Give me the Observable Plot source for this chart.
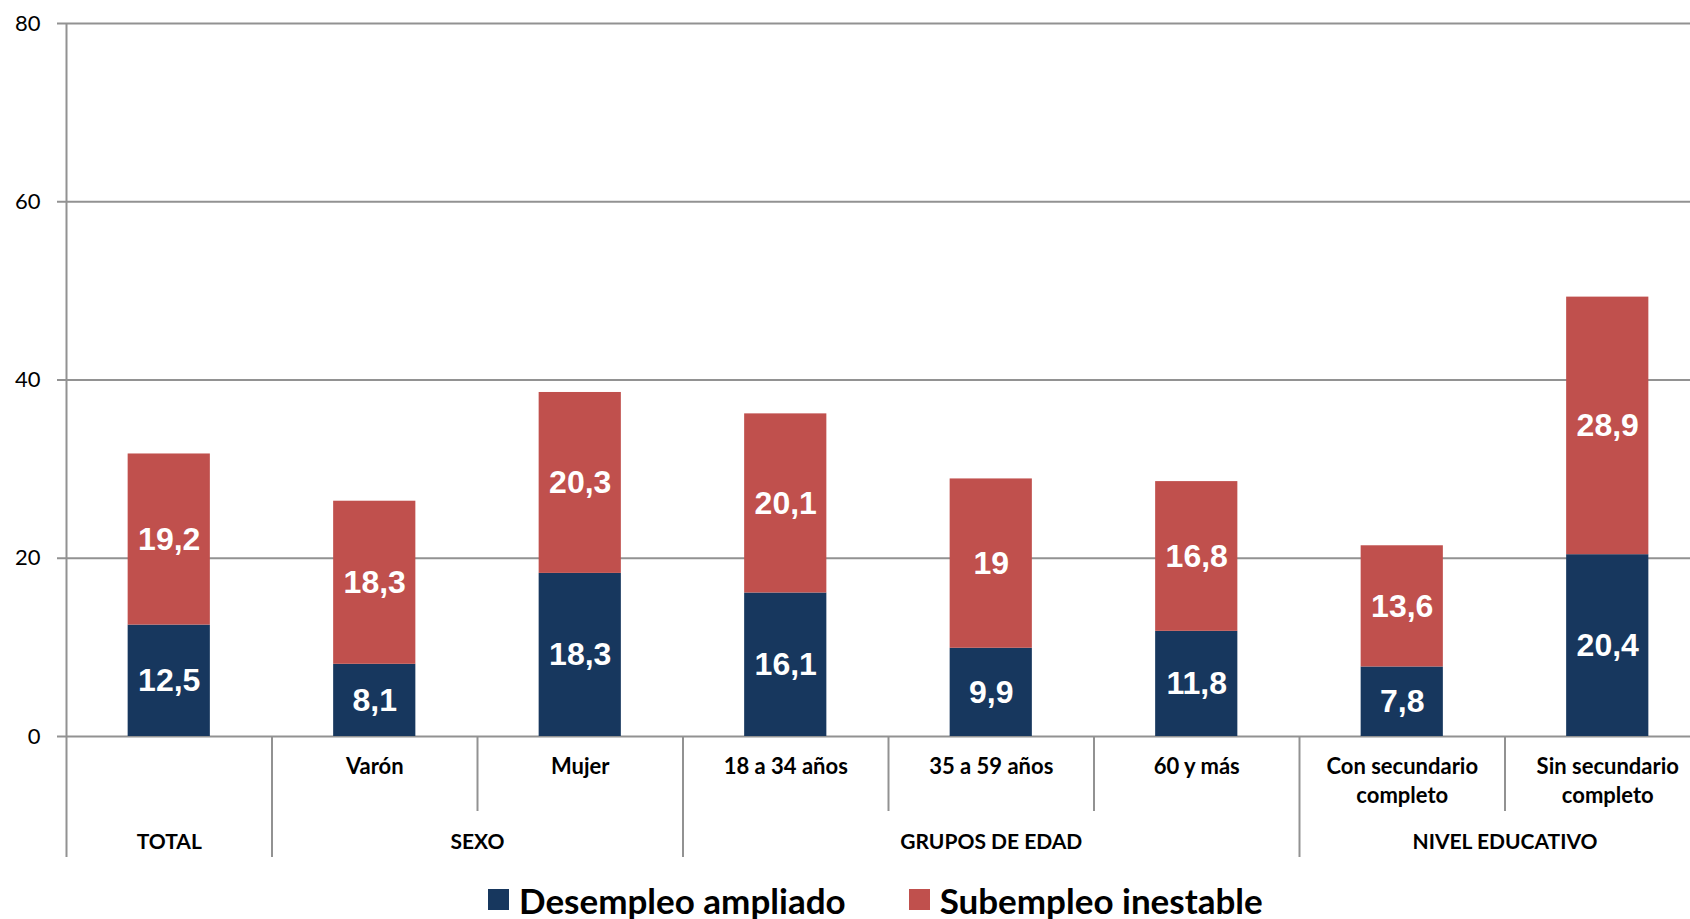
<!DOCTYPE html>
<html>
<head>
<meta charset="utf-8">
<script src="https://cdn.jsdelivr.net/npm/d3@7"></script>
<script src="https://cdn.jsdelivr.net/npm/@observablehq/plot@0.6"></script>
<style>
  html, body { margin: 0; padding: 0; background: #fff; }
  #chart { width: 1690px; }
  .legend { display: flex; align-items: center; height: 49px; padding-top: 5px; padding-left: 488px; font-family: Lato, "Noto Sans", sans-serif; font-weight: 700; font-size: 35px; color: #000; }
  .legend .item { display: flex; align-items: center; }
  .legend .sw { width: 21px; height: 21px; margin-right: 10px; }
</style>
</head>
<body>
<div id="chart"></div>
<script>
// Data
const categories = ["TOTAL", "Varón", "Mujer", "18 a 34 años", "35 a 59 años", "60 y más", "Con secundario\ncompleto", "Sin secundario\ncompleto"];
const categoryLabels = ["", "Varón", "Mujer", "18 a 34 años", "35 a 59 años", "60 y más", "Con secundario\ncompleto", "Sin secundario\ncompleto"];
const desempleoAmpliado = [12.5, 8.1, 18.3, 16.1, 9.9, 11.8, 7.8, 20.4];
const subempleoInestable = [19.2, 18.3, 20.3, 20.1, 19, 16.8, 13.6, 28.9];
const groups = ["TOTAL", "SEXO", "GRUPOS DE EDAD", "NIVEL EDUCATIVO"];
const groupSizes = [1, 2, 3, 2];
const yTicks = [0, 20, 40, 60, 80];
const seriesNames = ["Desempleo ampliado", "Subempleo inestable"];
const seriesColors = ["#17375E", "#C0504D"];

// Derived tables
const rows = [];
categories.forEach((c, i) => {
  rows.push({i, cat: c, serie: seriesNames[0], lo: 0, hi: desempleoAmpliado[i], v: desempleoAmpliado[i]});
  rows.push({i, cat: c, serie: seriesNames[1], lo: desempleoAmpliado[i], hi: desempleoAmpliado[i] + subempleoInestable[i], v: subempleoInestable[i]});
});
const groupRows = [];
let start = 0;
groups.forEach((g, k) => {
  const n = groupSizes[k];
  groupRows.push({name: g, center: start + (n - 1) / 2, lo: start - 0.5, hi: start + n - 0.5});
  start += n;
});
const axisBound = groupRows[0].lo;                          // left axis line
const groupBounds = groupRows.slice(1).map(g => g.lo);      // long separators
const innerBounds = [];
groupRows.forEach(g => { for (let b = g.lo + 1; b < g.hi; b++) innerBounds.push(b); });
const catRows = categoryLabels.map((t, i) => ({i, t}));
const fmt = v => String(v).replace(".", ",");

const W = 1690, H = 870;
const font = "Lato, 'Noto Sans', sans-serif";
const chart = Plot.plot({
  width: W,
  height: H,
  marginLeft: 66,
  marginRight: 0,
  marginTop: 23,
  marginBottom: H - 736,
  style: {background: "#fff", overflow: "hidden"},
  x: {domain: [-0.5, categories.length - 0.5], range: [66, 66 + 205.5 * categories.length], axis: null},
  y: {domain: [0, 80], ticks: yTicks, label: null},
  color: {domain: seriesNames, range: seriesColors},
  marks: [
    Plot.ruleY(yTicks, {y: d => d, stroke: "#929292", strokeWidth: 2, insetLeft: -9}),
    Plot.axisY(yTicks, {tickSize: 0, tickPadding: 26, fontSize: 22, fontFamily: font, fill: "#000", label: null}),
    Plot.rectY(rows, {x1: d => d.i - 0.2, x2: d => d.i + 0.2, y1: "lo", y2: "hi", fill: "serie"}),
    Plot.text(rows, {x: "i", y: d => (d.lo + d.hi) / 2, text: d => fmt(d.v), fill: "#fff", fontSize: 32, fontWeight: "bold", fontFamily: "'Liberation Sans', Arial, sans-serif"}),
    Plot.ruleX([axisBound], {x: d => d, stroke: "#929292", strokeWidth: 2, insetBottom: -121}),
    Plot.ruleX(groupBounds, {x: d => d, y1: 0, y2: 0, stroke: "#929292", strokeWidth: 2, insetBottom: -121}),
    Plot.ruleX(innerBounds, {x: d => d, y1: 0, y2: 0, stroke: "#929292", strokeWidth: 2, insetBottom: -75}),
    Plot.text(catRows, {x: "i", text: "t", frameAnchor: "bottom", lineAnchor: "top", dy: 17, lineHeight: 1.32, fontSize: 22, fontWeight: "bold", fontFamily: font, fill: "#000"}),
    Plot.text(groupRows, {x: "center", text: "name", frameAnchor: "bottom", lineAnchor: "top", dy: 98, fontSize: 21, fontWeight: "bold", fontFamily: font, fill: "#000"})
  ]
});
document.getElementById("chart").appendChild(chart);

const legend = document.createElement("div");
legend.className = "legend";
seriesNames.forEach((s, k) => {
  const it = document.createElement("div");
  it.className = "item";
  if (k > 0) it.style.marginLeft = "63px";
  const sw = document.createElement("span");
  sw.className = "sw";
  sw.style.background = seriesColors[k];
  const tx = document.createElement("span");
  tx.textContent = s;
  it.appendChild(sw); it.appendChild(tx);
  legend.appendChild(it);
});
document.getElementById("chart").appendChild(legend);
</script>
</body>
</html>
